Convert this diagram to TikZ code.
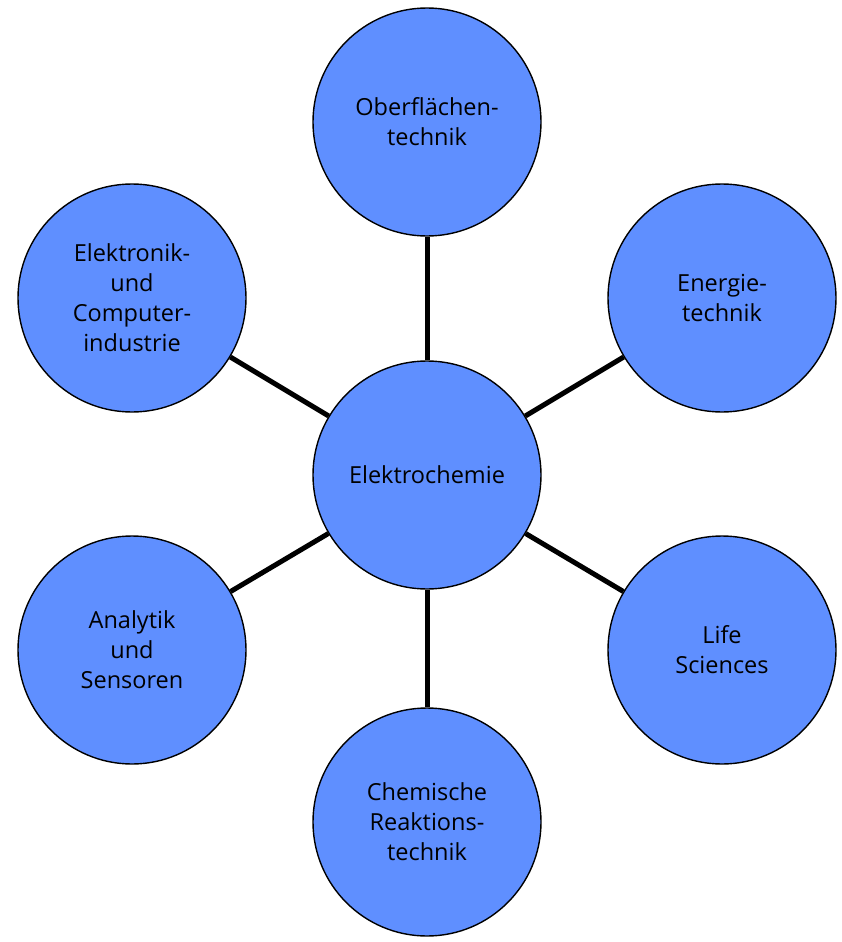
\documentclass[tikz,border=0pt]{standalone}
\usepackage{fontspec}
\setmainfont{Open Sans}
\definecolor{circblue}{HTML}{5F8FFF}
\begin{document}
\begin{tikzpicture}[x=1pt,y=-1pt,
  bubble/.style={circle,draw=black,line width=1.4pt,fill=circblue,minimum size=228pt,inner sep=0pt,align=center,font=\fontsize{23.5}{30}\selectfont},
  link/.style={line width=5pt,black}]
\useasboundingbox (0,0) rectangle (842,942);
\node[bubble] (c) at (427,475) {Elektrochemie};
\node[bubble] (t) at (427,122) {Oberflächen-\\technik};
\node[bubble] (tr) at (722,298) {Energie-\\technik};
\node[bubble] (tl) at (132,298) {Elektronik-\\und\\Computer-\\industrie};
\node[bubble] (bl) at (132,650) {Analytik\\und\\Sensoren};
\node[bubble] (br) at (722,650) {Life\\Sciences};
\node[bubble] (b) at (427,822) {Chemische\\Reaktions-\\technik};
\foreach \n in {t,tr,tl,bl,br,b}{\draw[link] (c) -- (\n);}
\end{tikzpicture}
\end{document}
